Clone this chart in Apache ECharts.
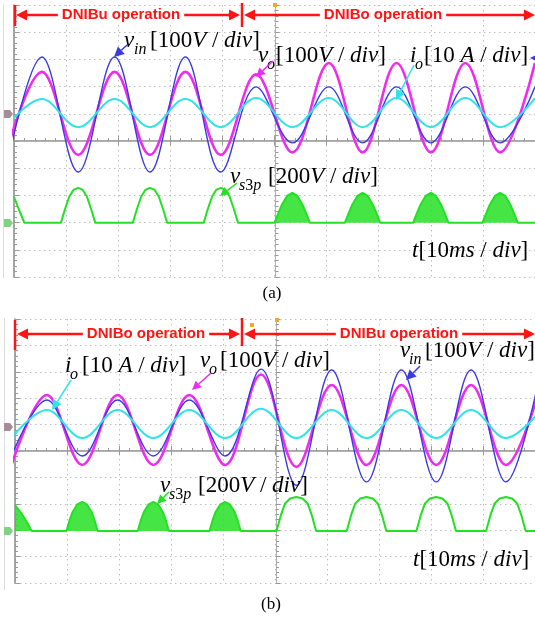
<!DOCTYPE html>
<html>
<head>
<meta charset="utf-8">
<script src="https://cdn.jsdelivr.net/npm/echarts@6/dist/echarts.min.js"></script>
<style>
html, body { margin: 0; padding: 0; background: #fff; }
#chart { width: 535px; height: 622px; }
</style>
</head>
<body>
<div id="chart"></div>
<script>
// x in ms (10 ms/div), y in scope divisions (centre line = 0)
// troughs and peaks, alternating trough / peak
const timeA = [-1.6, 5.35, 12.33, 19.31, 26.1, 32.89, 39.68, 46.46, 53.44, 60.42, 66.92, 73.42, 80.02, 86.62, 93.31, 100.0]
const vinA = [-1.14, 3.09, -1.14, 3.09, -1.14, 3.09, -1.14, 1.99, -0.07, 1.99, -0.07, 1.99, -0.07, 1.99, -0.07, 1.99]
const voA = [-0.51, 2.54, -0.51, 2.54, -0.51, 2.54, -0.51, 2.45, -0.42, 2.87, -0.42, 2.87, -0.42, 2.87, -0.42, 2.87]
const ioA = [0.51, 1.54, 0.51, 1.54, 0.51, 1.54, 0.51, 1.58, 0.51, 1.58, 0.51, 1.58, 0.51, 1.58, 0.51, 1.58]
const vs3pA = [
  [0, -2.05], [0.9, -2.5], [2.0, -3.01],
  [9.0, -3.01], [9.8, -2.5], [10.6, -2.05], [11.4, -1.8], [12.3, -1.72], [13.2, -1.8], [14.0, -2.05], [14.8, -2.5], [15.6, -3.01],
  [22.8, -3.01], [23.6, -2.5], [24.4, -2.05], [25.2, -1.8], [26.1, -1.72], [27.0, -1.8], [27.8, -2.05], [28.6, -2.5], [29.4, -3.01],
  [36.4, -3.01], [37.2, -2.5], [38.0, -2.05], [38.8, -1.8], [39.7, -1.72], [40.6, -1.8], [41.4, -2.05], [42.2, -2.5], [43.0, -3.01],
  [50.0, -3.01], [50.7, -2.67], [51.4, -2.35], [52.4, -2.02], [53.4, -1.91], [54.4, -2.02], [55.4, -2.35], [56.1, -2.67], [56.8, -3.01],
  [63.5, -3.01], [64.2, -2.67], [64.9, -2.35], [65.9, -2.02], [66.9, -1.91], [67.9, -2.02], [68.9, -2.35], [69.6, -2.67], [70.3, -3.01],
  [76.6, -3.01], [77.3, -2.67], [78.0, -2.35], [79.0, -2.02], [80.0, -1.91], [81.0, -2.02], [82.0, -2.35], [82.7, -2.67], [83.4, -3.01],
  [89.9, -3.01], [90.6, -2.67], [91.3, -2.35], [92.3, -2.02], [93.3, -1.91], [94.3, -2.02], [95.3, -2.35], [96.0, -2.67], [96.7, -3.01],
  [100, -3.01]
]
const baseA = -3.01
const switchA = 43.6 // DNIBu -> DNIBo

const timeB = [-0.67, 6.13, 12.93, 19.73, 26.6, 33.52, 40.4, 47.3, 54.1, 60.9, 67.6, 74.3, 81.0, 87.7, 94.4, 101.1]
const vinB = [-0.19, 1.93, -0.19, 1.93, -0.19, 1.93, -0.19, 3.1, -1.3, 3.07, -1.17, 3.07, -1.17, 3.07, -1.17, 3.07]
const voB = [-0.53, 2.12, -0.53, 2.12, -0.53, 2.12, -0.53, 2.9, -0.6, 2.5, -0.53, 2.5, -0.53, 2.5, -0.53, 2.5]
const ioB = [0.49, 1.55, 0.49, 1.55, 0.49, 1.55, 0.49, 1.6, 0.49, 1.55, 0.49, 1.55, 0.49, 1.55, 0.49, 1.55]
const vs3pB = [
  [0, -2.05], [1.2, -2.35], [2.3, -2.7], [3.2, -3.03],
  [9.9, -3.03], [10.5, -2.62], [11.1, -2.3], [12.0, -2.02], [12.9, -1.93], [13.8, -2.02], [14.7, -2.3], [15.3, -2.62], [15.9, -3.03],
  [23.6, -3.03], [24.2, -2.62], [24.8, -2.3], [25.7, -2.02], [26.6, -1.93], [27.5, -2.02], [28.4, -2.3], [29.0, -2.62], [29.6, -3.03],
  [37.4, -3.03], [38.0, -2.62], [38.6, -2.3], [39.5, -2.02], [40.4, -1.93], [41.3, -2.02], [42.2, -2.3], [42.8, -2.62], [43.4, -3.03],
  [50.3, -3.03], [51.1, -2.45], [51.9, -2.0], [52.9, -1.8], [54.1, -1.74], [55.3, -1.8], [56.3, -2.0], [57.1, -2.45], [57.9, -3.03],
  [63.8, -3.03], [64.6, -2.45], [65.4, -2.0], [66.4, -1.8], [67.6, -1.74], [68.8, -1.8], [69.8, -2.0], [70.6, -2.45], [71.4, -3.03],
  [77.2, -3.03], [78.0, -2.45], [78.8, -2.0], [79.8, -1.8], [81.0, -1.74], [82.2, -1.8], [83.2, -2.0], [84.0, -2.45], [84.8, -3.03],
  [90.6, -3.03], [91.4, -2.45], [92.2, -2.0], [93.2, -1.8], [94.4, -1.74], [95.6, -1.8], [96.6, -2.0], [97.4, -2.45], [98.2, -3.03],
  [100, -3.03]
]
const baseB = -3.03
const switchB = 43.5 // DNIBo -> DNIBu

const BLUE = '#3a3ae0'
const MAGENTA = '#ee2bee'
const CYAN = '#2fe3e8'
const GREEN = '#24e024'
const RED = '#ff1414'
const SERIF = 'Liberation Serif'

const grids = [
  { left: 14, top: 5, width: 523, height: 272 },
  { left: 15, top: 319, width: 522, height: 264 }
]

const tickStyle = { color: '#999', width: 1 }

function xAxesFor(i) {
  const g = grids[i]
  const common = { gridIndex: i, type: 'value', min: 0, max: 100, interval: 10, axisLabel: { show: false } }
  return [
    {
      ...common, position: 'bottom',
      axisLine: { show: true, lineStyle: { color: '#8a8a8a', width: 1.5 } },
      axisTick: { show: true, inside: true, length: 5, lineStyle: tickStyle },
      minorTick: { show: true, splitNumber: 5, length: 3, lineStyle: tickStyle },
      splitLine: { show: true, lineStyle: { color: '#bdbdbd', width: 1, type: [1.5, 3.5] } }
    },
    {
      ...common, position: 'top',
      axisLine: { show: true, lineStyle: { color: '#9a9a9a', width: 1 } },
      axisTick: { show: true, inside: true, length: 4, lineStyle: tickStyle },
      minorTick: { show: false },
      splitLine: { show: false }
    },
    {
      ...common, position: 'bottom', offset: -g.height / 2,
      axisLine: { show: true, lineStyle: { color: '#b0b0b0', width: 1 } },
      axisTick: { show: true, inside: true, length: 4, lineStyle: tickStyle },
      minorTick: { show: true, splitNumber: 5, length: 3, lineStyle: tickStyle },
      splitLine: { show: false }
    }
  ]
}

function yAxesFor(i) {
  const g = grids[i]
  const common = { gridIndex: i, type: 'value', min: -5, max: 5, interval: 1, axisLabel: { show: false } }
  return [
    {
      ...common, position: 'left',
      axisLine: { show: true, lineStyle: { color: '#8a8a8a', width: 1.5 } },
      axisTick: { show: true, inside: true, length: 5, lineStyle: tickStyle },
      minorTick: { show: true, splitNumber: 5, length: 3, lineStyle: tickStyle },
      splitLine: { show: true, lineStyle: { color: '#bdbdbd', width: 1, type: [1.5, 3.5] } }
    },
    {
      ...common, position: 'left', offset: -g.width / 2,
      axisLine: { show: true, lineStyle: { color: '#b0b0b0', width: 1 } },
      axisTick: { show: true, inside: true, length: 4, lineStyle: tickStyle },
      minorTick: { show: true, splitNumber: 5, length: 3, lineStyle: tickStyle },
      splitLine: { show: false }
    }
  ]
}

// peaks/troughs only: a smooth of ~0.36 gives a near-sinusoidal bezier between them
function wave(times, values, color, width, i, z) {
  return {
    type: 'line', xAxisIndex: i * 3, yAxisIndex: i * 2,
    data: times.map((t, k) => [t, values[k]]),
    smooth: 0.36, symbol: 'none', silent: true, z,
    lineStyle: { color, width }
  }
}

function green(points, width, i) {
  return {
    type: 'line', xAxisIndex: i * 3, yAxisIndex: i * 2,
    data: points, symbol: 'none', silent: true, z: 6,
    lineStyle: { color: GREEN, width }
  }
}

function greenFill(points, base, i) {
  return {
    type: 'line', xAxisIndex: i * 3, yAxisIndex: i * 2,
    data: points, symbol: 'none', silent: true, z: 5,
    lineStyle: { width: 0 },
    areaStyle: { color: GREEN, opacity: 0.85, origin: base }
  }
}

function arrow(x1, y1, x2, y2, color, head, w) {
  const a = Math.atan2(y2 - y1, x2 - x1)
  const ux = Math.cos(a), uy = Math.sin(a)
  const bx = x2 - ux * head, by = y2 - uy * head
  const hw = head * 0.5
  return [
    { type: 'line', z: 100, shape: { x1, y1, x2: bx, y2: by }, style: { stroke: color, lineWidth: w } },
    { type: 'polygon', z: 100, shape: { points: [[x2, y2], [bx - uy * hw, by + ux * hw], [bx + uy * hw, by - ux * hw]] }, style: { fill: color } }
  ]
}

function span(x1, x2, y, textX, text) {
  return [
    { type: 'line', z: 100, shape: { x1: x1 + 8, y1: y, x2: x2 - 8, y2: y }, style: { stroke: RED, lineWidth: 2.5 } },
    ...arrow(x1 + 12, y, x1, y, RED, 11, 2.5),
    ...arrow(x2 - 12, y, x2, y, RED, 11, 2.5),
    {
      type: 'text', z: 101, x: textX, y,
      style: {
        text, fill: RED, font: 'bold 15px "Liberation Sans", Arial, sans-serif',
        align: 'center', verticalAlign: 'middle', backgroundColor: '#fff', padding: [1, 4]
      }
    }
  ]
}

function bar(x, y1, y2) {
  return { type: 'line', z: 100, shape: { x1: x, y1, x2: x, y2 }, style: { stroke: RED, lineWidth: 2.5 } }
}

const richMain = {
  n: { fontFamily: SERIF, fontSize: 23, fontStyle: 'normal', fill: '#000' },
  i: { fontFamily: SERIF, fontSize: 23, fontStyle: 'italic', fill: '#000' },
  si: { fontFamily: SERIF, fontSize: 16, fontStyle: 'italic', fill: '#000' },
  sn: { fontFamily: SERIF, fontSize: 16, fontStyle: 'normal', fill: '#000' }
}

function txt(x, y, text) {
  return { type: 'text', z: 100, x, y, style: { text, rich: richMain, verticalAlign: 'middle', fill: '#000' } }
}

// symbol + subscript + bracketed scale, positions given by text baseline
function label(x, base, main, subX, sub, restX, rest) {
  return [
    txt(x, base - 8, '{i|' + main + '}'),
    txt(subX, base + 1, sub),
    txt(restX, base - 8, rest)
  ]
}

const scale100 = '{n|[100}{i|V}{n| / }{i|div}{n|]}'
const scale200 = '{n|[200}{i|V}{n| / }{i|div}{n|]}'
const scale10A = '{n|[10 }{i|A}{n| / }{i|div}{n|]}'
const scaleT = '{i|t}{n|[10}{i|ms}{n| / }{i|div}{n|]}'

function marker(y, color) {
  return {
    type: 'polygon', z: 100,
    shape: { points: [[4, y - 4], [10, y - 4], [13, y], [10, y + 4], [4, y + 4]] },
    style: { fill: color }
  }
}

function dot(x, y) {
  return { type: 'rect', z: 100, shape: { x: x - 2, y: y - 2, width: 4, height: 4 }, style: { fill: '#f4a336' } }
}

const graphic = [
  { type: 'line', shape: { x1: 3.5, y1: 4, x2: 3.5, y2: 278 }, style: { stroke: '#dcdcdc', lineWidth: 1 } },
  { type: 'line', shape: { x1: 4.5, y1: 318, x2: 4.5, y2: 590 }, style: { stroke: '#dcdcdc', lineWidth: 1 } },
  marker(114, '#a48c99'), marker(223, '#7fd27f'),
  marker(427, '#a48c99'), marker(531, '#7fd27f'),
  dot(275, 5), dot(252, 325), dot(277, 320),

  bar(15, 5, 26), bar(242, 3, 27),
  ...span(16, 240, 15, 121, 'DNIBu operation'),
  ...span(244, 535, 15, 383, 'DNIBo operation'),
  bar(15, 320, 350), bar(242, 318, 346),
  ...span(17, 240, 334, 146, 'DNIBo operation'),
  ...span(244, 535, 334, 399, 'DNIBu operation'),

  ...label(124, 49, 'v', 134, '{si|in}', 150, scale100),
  ...label(258, 64, 'v', 267, '{si|o}', 276, scale100),
  ...label(410, 64, 'i', 415, '{si|o}', 424, scale10A),
  ...label(230, 185, 'v', 239, '{si|s}{sn|3}{si|p}', 268, scale200),
  txt(412, 251, scaleT),

  ...label(65, 374, 'i', 70, '{si|o}', 82, scale10A),
  ...label(200, 369, 'v', 209, '{si|o}', 220, scale100),
  ...label(400, 359, 'v', 409, '{si|in}', 425, scale100),
  ...label(160, 494, 'v', 169, '{si|s}{sn|3}{si|p}', 198, scale200),
  txt(413, 560, scaleT),

  ...arrow(127, 45, 114, 57, BLUE, 10, 1.5),
  ...arrow(273, 61, 256, 77, MAGENTA, 9, 1.5),
  ...arrow(414, 65, 396, 100, CYAN, 10, 1.5),
  ...arrow(237, 183, 220, 196, GREEN, 9, 1.5),
  ...arrow(542, 58, 530, 58, BLUE, 6, 1.5),
  ...arrow(71, 380, 52, 410, CYAN, 10, 1.5),
  ...arrow(211, 373, 192, 390, MAGENTA, 9, 1.5),
  ...arrow(420, 366, 406, 380, BLUE, 10, 1.5),
  ...arrow(169, 492, 157, 504, GREEN, 9, 1.5),

  { type: 'text', z: 100, x: 272, y: 294, style: { text: '(a)', font: '17px "Liberation Serif"', fill: '#000', align: 'center', verticalAlign: 'middle' } },
  { type: 'text', z: 100, x: 271, y: 605, style: { text: '(b)', font: '17px "Liberation Serif"', fill: '#000', align: 'center', verticalAlign: 'middle' } }
]

const chart = echarts.init(document.getElementById('chart'))
chart.setOption({
  animation: false,
  grid: grids,
  xAxis: [...xAxesFor(0), ...xAxesFor(1)],
  yAxis: [...yAxesFor(0), ...yAxesFor(1)],
  series: [
    wave(timeA, voA, MAGENTA, 2.6, 0, 2),
    wave(timeA, vinA, BLUE, 1.4, 0, 3),
    wave(timeA, ioA, CYAN, 2, 0, 4),
    greenFill(vs3pA.filter(p => p[0] >= switchA), baseA, 0),
    green(vs3pA, 2, 0),
    wave(timeB, voB, MAGENTA, 2.6, 1, 2),
    wave(timeB, vinB, BLUE, 1.4, 1, 3),
    wave(timeB, ioB, CYAN, 2, 1, 4),
    greenFill(vs3pB.filter(p => p[0] <= switchB), baseB, 1),
    green(vs3pB, 2, 1)
  ],
  graphic
})
</script>
</body>
</html>
